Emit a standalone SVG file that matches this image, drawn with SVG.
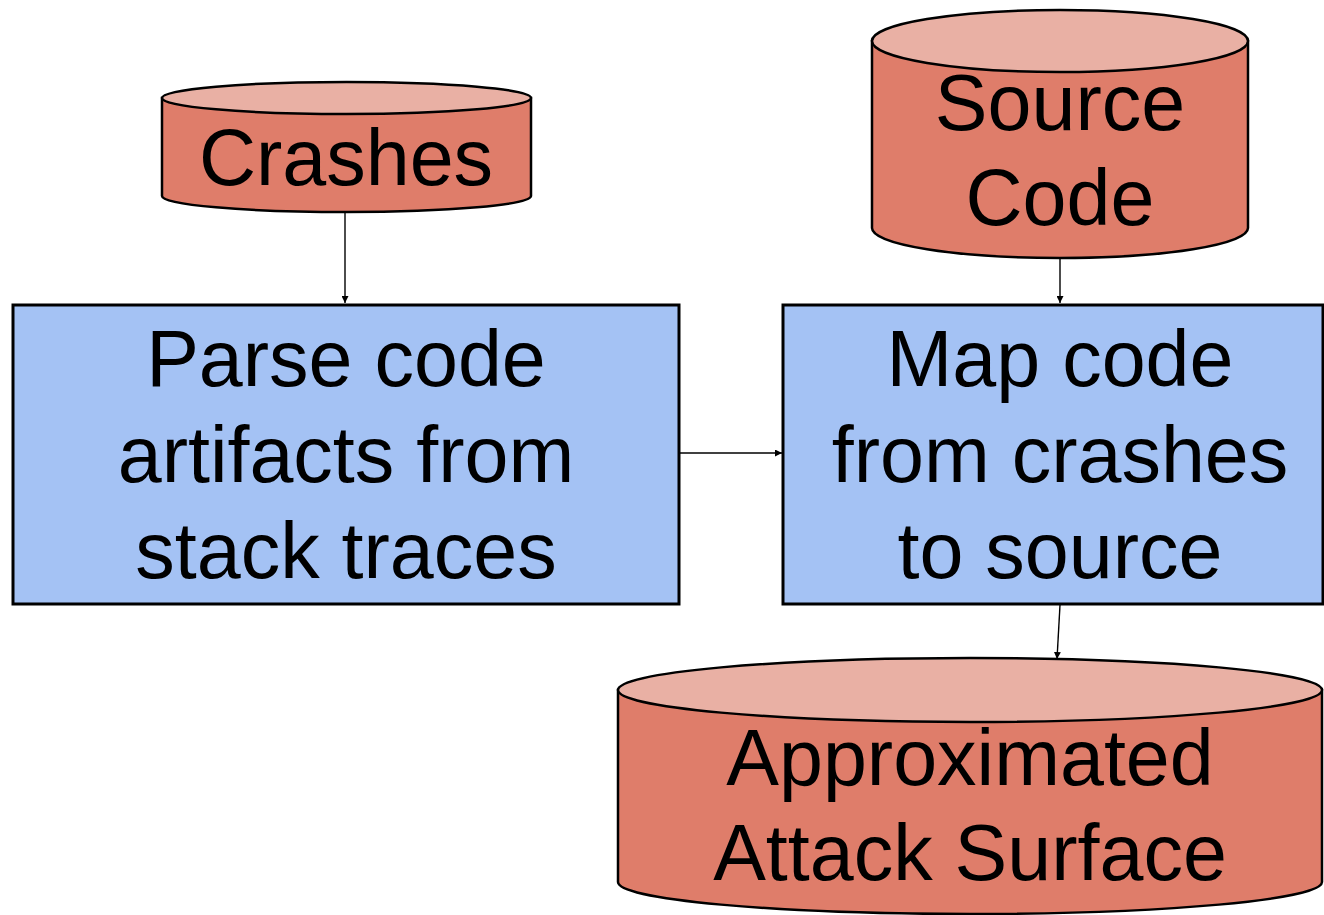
<svg xmlns="http://www.w3.org/2000/svg" width="1324" height="915" viewBox="0 0 1324 915">
  <style>
    .store-body { fill: #df7d6a; stroke: #000; stroke-width: 2.5; }
    .store-top { fill: #e9b0a4; stroke: #000; stroke-width: 2.5; }
    .step { fill: #a4c2f4; stroke: #000; stroke-width: 3; }
    .label { font-family: "Liberation Sans", Arial, sans-serif; font-size: 79px; fill: #000; text-anchor: middle; }
    .link { fill: none; stroke: #000; stroke-width: 1.4; marker-end: url(#arrow); }
  </style>
  <defs>
    <marker id="arrow" viewBox="0 0 10 10" refX="10" refY="5" markerWidth="7" markerHeight="7" markerUnits="userSpaceOnUse" orient="auto">
      <path d="M0,0 L10,5 L0,10 Z" fill="#000"/>
    </marker>
  </defs>

  <rect width="1324" height="915" fill="#fff"/>

  <!-- connectors -->
  <g id="connectors">
    <line class="link" x1="345" y1="212" x2="345" y2="303"/>
    <line class="link" x1="1060" y1="259" x2="1060" y2="303"/>
    <line class="link" x1="680" y1="453" x2="782" y2="453"/>
    <line class="link" x1="1060" y1="605" x2="1057" y2="659"/>
  </g>

  <!-- Crashes store -->
  <g id="crashes">
    <path class="store-body" d="M162,98 L162,196 A184.5,16 0 0 0 531,196 L531,98 Z"/>
    <ellipse class="store-top" cx="346.5" cy="98" rx="184.5" ry="16"/>
    <text class="label" x="346" y="185">Crashes</text>
  </g>

  <!-- Source Code store -->
  <g id="source-code">
    <path class="store-body" d="M872,41 L872,228 A188,30 0 0 0 1248,228 L1248,41 Z"/>
    <ellipse class="store-top" cx="1060" cy="41" rx="188" ry="31"/>
    <text class="label" x="1060" y="130">Source</text>
    <text class="label" x="1060" y="225">Code</text>
  </g>

  <!-- Parse step -->
  <g id="parse">
    <rect class="step" x="13" y="305" width="666" height="299"/>
    <text class="label" x="346" y="386">Parse code</text>
    <text class="label" x="346" y="482">artifacts from</text>
    <text class="label" x="346" y="578">stack traces</text>
  </g>

  <!-- Map step -->
  <g id="map">
    <rect class="step" x="783" y="305" width="540" height="299"/>
    <text class="label" x="1060" y="386">Map code</text>
    <text class="label" x="1060" y="482">from crashes</text>
    <text class="label" x="1060" y="578">to source</text>
  </g>

  <!-- Approximated Attack Surface store -->
  <g id="attack-surface">
    <path class="store-body" d="M618,690 L618,882 A352,32 0 0 0 1322,882 L1322,690 Z"/>
    <ellipse class="store-top" cx="970" cy="690" rx="352" ry="32"/>
    <text class="label" x="970" y="785">Approximated</text>
    <text class="label" x="970" y="880">Attack Surface</text>
  </g>
</svg>
